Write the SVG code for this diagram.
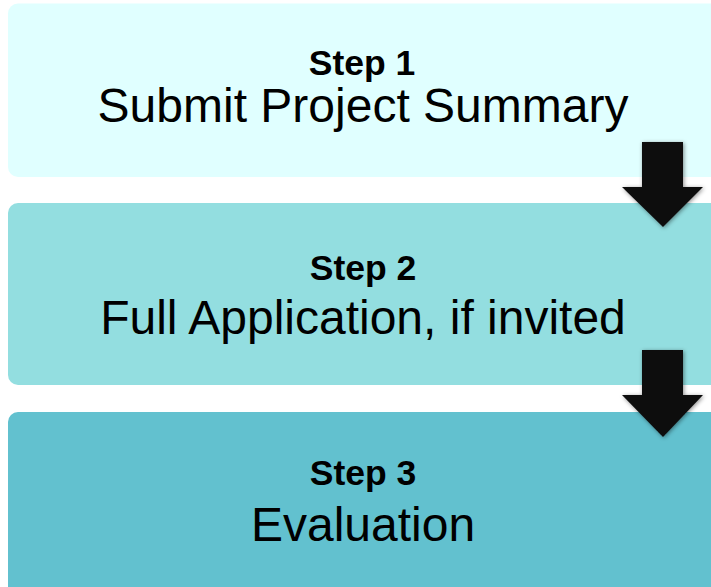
<svg xmlns="http://www.w3.org/2000/svg" width="711" height="587" viewBox="0 0 711 587">
  <defs>
    <style>
      .step { font-family: "Liberation Sans", Arial, sans-serif; font-weight: bold; font-size: 35.5px; fill: #000; text-anchor: middle; }
      .desc { font-family: "Liberation Sans", Arial, sans-serif; font-size: 48px; fill: #000; text-anchor: middle; }
      .arrow { fill: #111111; filter: url(#shade); }
    </style>
    <filter id="shade" x="-30%" y="-30%" width="160%" height="160%">
      <feDropShadow dx="1" dy="1" stdDeviation="2" flood-color="#000" flood-opacity="0.45"/>
    </filter>
  </defs>
  <rect width="711" height="587" fill="#ffffff"/>

  <g id="step1">
    <rect x="8" y="3.5" width="712" height="173.5" rx="10" fill="#E0FFFF"/>
    <text class="step" x="362" y="75">Step 1</text>
    <text class="desc" x="363" y="122">Submit Project Summary</text>
  </g>

  <g id="step2">
    <rect x="8" y="203" width="712" height="182" rx="10" fill="#93DEE0"/>
    <text class="step" x="363" y="280">Step 2</text>
    <text class="desc" x="363" y="334">Full Application, if invited</text>
  </g>

  <g id="step3">
    <rect x="8" y="412" width="712" height="185" rx="10" fill="#62C1CF"/>
    <text class="step" x="363" y="485">Step 3</text>
    <text class="desc" x="363" y="541">Evaluation</text>
  </g>

  <g id="connectors">
    <path class="arrow" d="M642 142 H683 V187 H703 L663 227 L622 187 H642 Z"/>
    <path class="arrow" d="M642 350 H683 V395 H703 L663 437 L622 395 H642 Z"/>
  </g>
</svg>
